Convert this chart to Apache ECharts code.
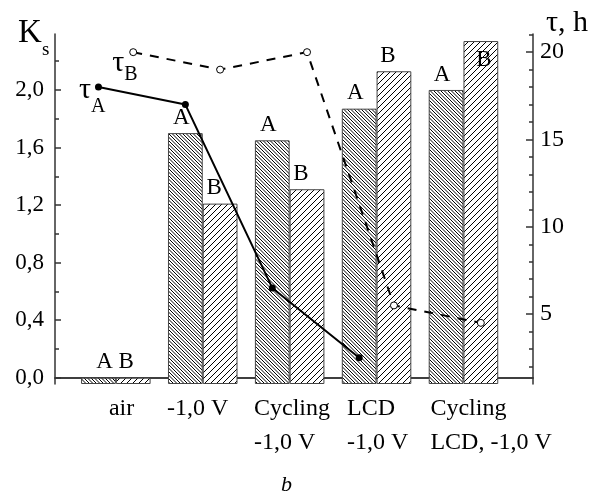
<!DOCTYPE html>
<html><head><meta charset="utf-8">
<script src="https://cdn.jsdelivr.net/npm/echarts@6/dist/echarts.min.js"></script>
<style>html,body{margin:0;padding:0;background:#fff}#c{width:608px;height:498px}</style>
</head><body><div id="c"></div>
<script>
// ---- data ----
const categories = ['air', '-1,0 V', 'Cycling\n-1,0 V', 'LCD\n-1,0 V', 'Cycling\nLCD, -1,0 V'];
const xA = [1, 2, 3, 4, 5];
const xB = [1.4, 2.4, 3.4, 4.4, 5.4];
const ksA = [0.0, 1.70, 1.65, 1.87, 2.00];
const ksB = [0.0, 1.21, 1.31, 2.13, 2.34];
const tauAx = [1, 2, 3, 4];
const tauA = [18.0, 17.0, 6.5, 2.5];
const tauBx = [1.4, 2.4, 3.4, 4.4, 5.4];
const tauB = [20.0, 19.0, 20.0, 5.5, 4.5];
const leftTicks = [0, 0.4, 0.8, 1.2, 1.6, 2.0];
const leftTickLabels = ['0,0', '0,4', '0,8', '1,2', '1,6', '2,0'];
const leftMinor = [0.2, 0.6, 1.0, 1.4, 1.8, 2.2];
const rightTicks = [5, 10, 15, 20];
const rightTickLabels = ['5', '10', '15', '20'];
const rightMinor = [2, 3, 4, 6, 7, 8, 9, 11, 12, 13, 14, 16, 17, 18, 19, 21];
const topTicks = [1, 1.5, 2, 2.5, 3, 3.5, 4, 4.5, 5, 5.5];

// ---- layout ----
const catLabelPos = [1.12, 1.79, 2.79, 3.86, 4.82];
const FONT = '"Liberation Serif", "Times New Roman", serif';
const GRID = {left: 55, right: 75, top: 34, bottom: 114};
const X_MIN = 0.5, X_MAX = 6.0, L_MIN = -0.0438, L_MAX = 2.389, R_MIN = 1.0, R_MAX = 21.04;
const plotW = 608 - GRID.left - GRID.right;
const barW = 0.4 / (X_MAX - X_MIN) * plotW;
const AX = {color: '#333', width: 1.5};

function hatch(tile, spacing, dir) {
  const c = document.createElement('canvas'); c.width = c.height = tile;
  const g = c.getContext('2d'); g.fillStyle = '#fff'; g.fillRect(0, 0, tile, tile);
  g.strokeStyle = '#000'; g.lineWidth = 1;
  for (let o = -tile; o <= tile + 0.01; o += spacing) {
    g.beginPath();
    if (dir === 'back') { g.moveTo(o, 0); g.lineTo(o + tile, tile); }
    else { g.moveTo(o, tile); g.lineTo(o + tile, 0); }
    g.stroke();
  }
  return c;
}
const patA = hatch(7, 3.5, 'back');
const patB = hatch(6, 6, 'fwd');

function pick(vals, labels, v) {
  let bi = 0, bd = 1e9;
  vals.forEach((x, i) => { const d = Math.abs(x - v); if (d < bd) { bd = d; bi = i; } });
  return labels[bi];
}

const labelBase = {show: true, position: 'top', distance: 4, fontSize: 23, fontFamily: FONT, color: '#000'};
const labelOverA = {0: {offset: [6, 0]}};
const labelOverB = {0: {offset: [-7, 0]}, 4: {position: 'insideTop', distance: 7, offset: [3, 0]}};

function tauRich(pad) {
  return {
    t: {fontSize: 30, lineHeight: 30, verticalAlign: 'top', fontFamily: FONT, color: '#000'},
    s: {fontSize: 20, lineHeight: 20, verticalAlign: 'top', padding: [pad, 0, 0, 0], fontFamily: FONT, color: '#000'}
  };
}

const chart = echarts.init(document.getElementById('c'), null, {renderer: 'canvas'});
chart.setOption({
  animation: false,
  backgroundColor: '#fff',
  title: [
    {text: 'K', left: 18, top: 17, padding: 0, textStyle: {fontFamily: FONT, fontSize: 33, fontWeight: 'normal', color: '#000'}},
    {text: 's', left: 42, top: 41, padding: 0, textStyle: {fontFamily: FONT, fontSize: 19, fontWeight: 'normal', color: '#000'}},
    {text: 'τ, h', left: 546, top: 8, padding: 0, textStyle: {fontFamily: FONT, fontSize: 30, fontWeight: 'normal', color: '#000'}},
    {text: 'b', left: 281, top: 474, padding: 0, textStyle: {fontFamily: FONT, fontSize: 22, fontStyle: 'italic', fontWeight: 'normal', color: '#000'}}
  ],
  grid: GRID,
  xAxis: [
    {type: 'value', position: 'bottom', min: X_MIN, max: X_MAX, axisLine: {show: true, lineStyle: AX},
     axisTick: {show: false}, axisLabel: {show: false}, splitLine: {show: false}},
    {type: 'value', position: 'top', min: X_MIN, max: X_MAX, axisLine: {show: true, lineStyle: AX},
     axisTick: {show: true, inside: true, length: 6, customValues: topTicks, lineStyle: AX},
     axisLabel: {show: false}, splitLine: {show: false}},
    {type: 'value', position: 'bottom', min: X_MIN, max: X_MAX, axisLine: {show: false}, axisTick: {show: false},
     splitLine: {show: false},
     axisLabel: {show: true, customValues: catLabelPos, formatter: v => pick(catLabelPos, categories, v),
       align: 'left', fontSize: 24, lineHeight: 34, margin: 8, fontFamily: FONT, color: '#000'}}
  ],
  yAxis: [
    {type: 'value', position: 'left', min: L_MIN, max: L_MAX, startValue: L_MIN,
     axisLine: {show: true, lineStyle: AX},
     axisTick: {show: true, inside: true, length: 6, customValues: leftTicks, lineStyle: AX},
     axisLabel: {show: true, customValues: leftTicks, formatter: v => pick(leftTicks, leftTickLabels, v),
       margin: 11, fontSize: 23, fontFamily: FONT, color: '#000'},
     splitLine: {show: false}},
    {type: 'value', position: 'right', min: R_MIN, max: R_MAX,
     axisLine: {show: true, lineStyle: AX},
     axisTick: {show: true, inside: true, length: 7, customValues: rightTicks, lineStyle: AX},
     axisLabel: {show: true, customValues: rightTicks, formatter: v => pick(rightTicks, rightTickLabels, v),
       margin: 7, fontSize: 24, fontFamily: FONT, color: '#000'},
     splitLine: {show: false}},
    {type: 'value', position: 'left', min: L_MIN, max: L_MAX, axisLine: {show: false},
     axisTick: {show: true, inside: true, length: 4, customValues: leftMinor, lineStyle: AX},
     axisLabel: {show: false}, splitLine: {show: false}},
    {type: 'value', position: 'right', min: R_MIN, max: R_MAX, axisLine: {show: false},
     axisTick: {show: true, inside: true, length: 4, customValues: rightMinor, lineStyle: AX},
     axisLabel: {show: false}, splitLine: {show: false}}
  ],
  series: [
    {type: 'bar', name: 'A', xAxisIndex: 0, yAxisIndex: 0, barWidth: barW, z: 2,
     data: xA.map((x, i) => labelOverA[i] ? {value: [x, ksA[i]], label: labelOverA[i]} : {value: [x, ksA[i]]}),
     itemStyle: {color: {image: patA, repeat: 'repeat'}, borderColor: '#444', borderWidth: 1},
     label: Object.assign({}, labelBase, {formatter: 'A', offset: [-4, 0]})},
    {type: 'bar', name: 'B', xAxisIndex: 1, yAxisIndex: 0, barWidth: barW, z: 2,
     data: xB.map((x, i) => labelOverB[i] ? {value: [x, ksB[i]], label: labelOverB[i]} : {value: [x, ksB[i]]}),
     itemStyle: {color: {image: patB, repeat: 'repeat'}, borderColor: '#444', borderWidth: 1},
     label: Object.assign({}, labelBase, {formatter: 'B', offset: [-6, 0]})},
    {type: 'line', name: 'tauA', xAxisIndex: 0, yAxisIndex: 1, z: 5,
     data: tauAx.map((x, i) => i === 0 ? {value: [x, tauA[i]], label: {show: true, position: [-16, -8], align: 'left', verticalAlign: 'top', formatter: '{t|τ}{s|A}', rich: tauRich(21)}} : {value: [x, tauA[i]]}),
     symbol: 'circle', symbolSize: 7, itemStyle: {color: '#000'},
     lineStyle: {color: '#000', width: 2}},
    {type: 'line', name: 'tauB', xAxisIndex: 0, yAxisIndex: 1, z: 5,
     data: tauBx.map((x, i) => i === 0 ? {value: [x, tauB[i]], label: {show: true, position: [-17, 0], align: 'left', verticalAlign: 'top', formatter: '{t|τ}{s|B}', rich: tauRich(17)}} : {value: [x, tauB[i]]}),
     symbol: 'circle', symbolSize: 7, itemStyle: {color: '#fff', borderColor: '#000', borderWidth: 1},
     lineStyle: {color: '#000', width: 2, type: [9, 8]}}
  ]
});
</script></body></html>
